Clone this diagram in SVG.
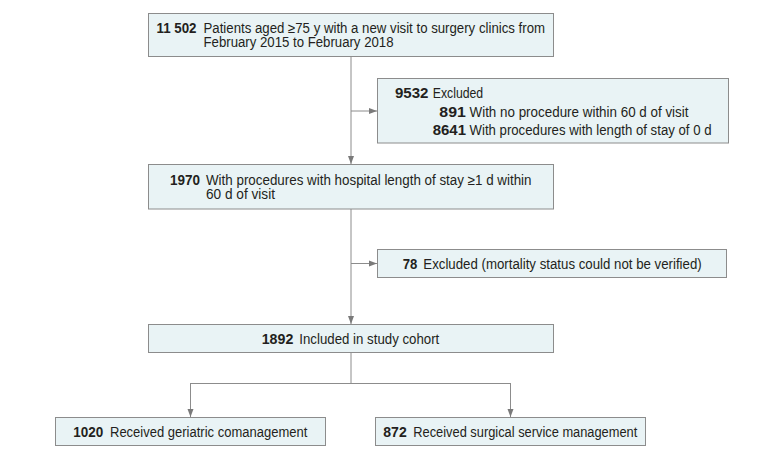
<svg xmlns="http://www.w3.org/2000/svg" width="780" height="459" viewBox="0 0 780 459">
<style>
.box{fill:#e9f3f5;stroke:#8c8c8c;stroke-width:1}
.t{font-family:"Liberation Sans Narrow","Liberation Sans",Arial,sans-serif;font-size:14px;fill:#231f20}
.b{font-weight:bold}
.ln{fill:none;stroke:#8c8c8c;stroke-width:1}
</style>
<defs>
<marker id="ah" viewBox="0 0 8 8" refX="8" refY="4" markerWidth="8" markerHeight="8" markerUnits="userSpaceOnUse" orient="auto">
<path d="M0,1 L8,4 L0,7 Z" fill="#7a7a7a"/>
</marker>
</defs>
<rect width="780" height="459" fill="#ffffff"/>
<g id="connectors">
<line class="ln" x1="351" y1="57" x2="351" y2="164" marker-end="url(#ah)"/>
<line class="ln" x1="351" y1="111" x2="377" y2="111" marker-end="url(#ah)"/>
<line class="ln" x1="351" y1="209" x2="351" y2="324" marker-end="url(#ah)"/>
<line class="ln" x1="351" y1="263.5" x2="377" y2="263.5" marker-end="url(#ah)"/>
<polyline class="ln" points="351,352 351,383.5"/>
<polyline class="ln" points="190.5,383.5 510.5,383.5"/>
<line class="ln" x1="190.5" y1="383" x2="190.5" y2="417" marker-end="url(#ah)"/>
<line class="ln" x1="510.5" y1="383" x2="510.5" y2="417" marker-end="url(#ah)"/>
</g>
<g id="n1">
<rect class="box" x="148.5" y="13.5" width="405" height="43"/>
<text class="t b" x="156.5" y="32.5" textLength="40" lengthAdjust="spacingAndGlyphs">11 502</text>
<text class="t" x="203.5" y="32.5" textLength="341.5" lengthAdjust="spacingAndGlyphs">Patients aged ≥75 y with a new visit to surgery clinics from</text>
<text class="t" x="203.5" y="47" textLength="190" lengthAdjust="spacingAndGlyphs">February 2015 to February 2018</text>
</g>
<g id="n2">
<rect class="box" x="377.5" y="78.5" width="351" height="64.5"/>
<text class="t b" x="395" y="98" textLength="33.5" lengthAdjust="spacingAndGlyphs">9532</text>
<text class="t" x="432.7" y="98" textLength="50.5" lengthAdjust="spacingAndGlyphs">Excluded</text>
<text class="t b" x="439.3" y="117" textLength="26.5" lengthAdjust="spacingAndGlyphs">891</text>
<text class="t" x="469.5" y="117" textLength="219" lengthAdjust="spacingAndGlyphs">With no procedure within 60 d of visit</text>
<text class="t b" x="432.7" y="134.5" textLength="33.3" lengthAdjust="spacingAndGlyphs">8641</text>
<text class="t" x="469.5" y="134.5" textLength="242" lengthAdjust="spacingAndGlyphs">With procedures with length of stay of 0 d</text>
</g>
<g id="n3">
<rect class="box" x="148.5" y="164.5" width="405" height="44.5"/>
<text class="t b" x="170" y="184.5" textLength="30" lengthAdjust="spacingAndGlyphs">1970</text>
<text class="t" x="206" y="184.5" textLength="325.5" lengthAdjust="spacingAndGlyphs">With procedures with hospital length of stay ≥1 d within</text>
<text class="t" x="206" y="199" textLength="69" lengthAdjust="spacingAndGlyphs">60 d of visit</text>
</g>
<g id="n4">
<rect class="box" x="377.5" y="249.5" width="349" height="28"/>
<text class="t b" x="402.7" y="268.5" textLength="14.6" lengthAdjust="spacingAndGlyphs">78</text>
<text class="t" x="423.3" y="268.5" textLength="278.4" lengthAdjust="spacingAndGlyphs">Excluded (mortality status could not be verified)</text>
</g>
<g id="n5">
<rect class="box" x="148.5" y="324.5" width="405" height="28"/>
<text class="t b" x="261.7" y="343.5" textLength="31.6" lengthAdjust="spacingAndGlyphs">1892</text>
<text class="t" x="299.3" y="343.5" textLength="140" lengthAdjust="spacingAndGlyphs">Included in study cohort</text>
</g>
<g id="n6">
<rect class="box" x="55.5" y="417.5" width="270" height="28"/>
<text class="t b" x="73.3" y="436.5" textLength="30" lengthAdjust="spacingAndGlyphs">1020</text>
<text class="t" x="110" y="436.5" textLength="197.3" lengthAdjust="spacingAndGlyphs">Received geriatric comanagement</text>
</g>
<g id="n7">
<rect class="box" x="375.5" y="417.5" width="270" height="28"/>
<text class="t b" x="383.3" y="436.5" textLength="23.4" lengthAdjust="spacingAndGlyphs">872</text>
<text class="t" x="413.3" y="436.5" textLength="224" lengthAdjust="spacingAndGlyphs">Received surgical service management</text>
</g>
</svg>
